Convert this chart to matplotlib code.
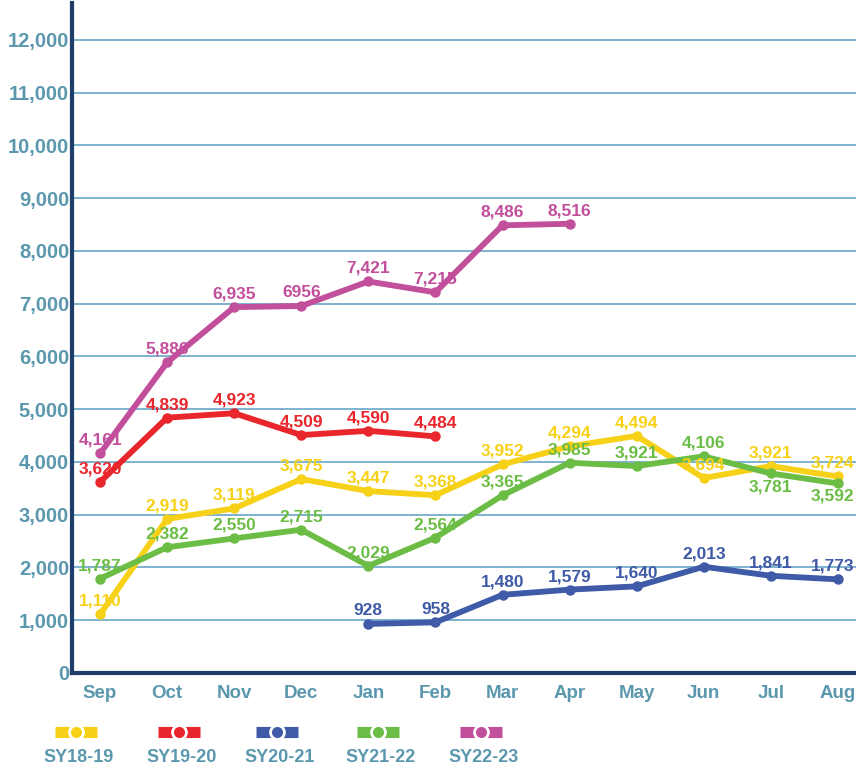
import numpy as np
import matplotlib
matplotlib.use("Agg")
from matplotlib import pyplot as plt
from matplotlib.lines import Line2D

months = ["Sep", "Oct", "Nov", "Dec", "Jan", "Feb", "Mar", "Apr", "May", "Jun", "Jul", "Aug"]
series_names = ["SY18-19", "SY19-20", "SY20-21", "SY21-22", "SY22-23"]

sy18_19 = [1110, 2919, 3119, 3675, 3447, 3368, 3952, 4294, 4494, 3694, 3921, 3724]
sy19_20 = [3620, 4839, 4923, 4509, 4590, 4484, None, None, None, None, None, None]
sy20_21 = [None, None, None, None, 928, 958, 1480, 1579, 1640, 2013, 1841, 1773]
sy21_22 = [1787, 2382, 2550, 2715, 2029, 2564, 3365, 3985, 3921, 4106, 3781, 3592]
sy22_23 = [4161, 5886, 6935, 6956, 7421, 7215, 8486, 8516, None, None, None, None]

yticks = [0, 1000, 2000, 3000, 4000, 5000, 6000, 7000, 8000, 9000, 10000, 11000, 12000]

colors = ["#F7D117", "#E8262C", "#3F5AA6", "#6CBD45", "#C24F9C"]
TEAL = "#5B98AE"
NAVY = "#1F3D6B"
GRID = "#7DB2D0"

# label offsets in points (dx, dy); default is just above the point
label_off = {
    (3, 10): (0, -4), (3, 11): (-4, -4),
    (0, 11): (-4, 4), (2, 11): (-4, 4),
}

plt.rcParams['font.family'] = ['Liberation Sans', 'DejaVu Sans']
plt.rcParams['font.weight'] = 'bold'

fig = plt.figure(figsize=(8.56, 7.69), dpi=100)
ax = fig.add_axes([0.084, 0.125, 0.916, 0.871])

x = np.arange(len(months))
all_series = [sy18_19, sy19_20, sy20_21, sy21_22, sy22_23]
for si, (vals, col) in enumerate(zip(all_series, colors)):
    xs = [i for i, v in enumerate(vals) if v is not None]
    ys = [v for v in vals if v is not None]
    ax.plot(xs, ys, color=col, lw=4.2, marker="o", ms=6.5, solid_capstyle="round",
            solid_joinstyle="round", zorder=3 + si)
    for xi, yi in zip(xs, ys):
        txt = "6956" if (si == 4 and yi == 6956) else "{:,}".format(yi)
        dx, dy = label_off.get((si, xi), (0, 4))
        ax.annotate(txt, (xi, yi), xytext=(dx, dy), textcoords="offset points",
                    ha="center", va="bottom" if dy > 0 else "top", color=col,
                    fontsize=12.5, fontweight="bold", zorder=10)

ax.set_xlim(-0.42, 11.27)
ax.set_ylim(0, 12700)
ax.set_yticks(yticks)
ax.set_yticklabels(["{:,}".format(v) for v in yticks])
ax.set_xticks(x)
ax.set_xticklabels(months)
ax.tick_params(axis="y", length=0, pad=2, labelsize=14.5, labelcolor=TEAL)
ax.tick_params(axis="x", length=0, pad=9, labelsize=13.5, labelcolor=TEAL)
for lab in ax.get_xticklabels() + ax.get_yticklabels():
    lab.set_fontweight("bold")

ax.grid(axis="y", color=GRID, lw=1.4)
ax.set_axisbelow(True)
for s in ["top", "right"]:
    ax.spines[s].set_visible(False)
for s in ["left", "bottom"]:
    ax.spines[s].set_color(NAVY)
    ax.spines[s].set_linewidth(3)

# legend: swatch with ringed dot, name underneath
leg_x = [76, 179, 277, 378, 481]
for name, col, cx in zip(series_names, colors, leg_x):
    fx = cx / 856.0
    fy = 1 - 732 / 769.0
    fig.add_artist(Line2D([fx - 21 / 856.0, fx + 21 / 856.0], [fy, fy],
                          transform=fig.transFigure, color=col, lw=8,
                          solid_capstyle="butt"))
    fig.add_artist(Line2D([fx], [fy], transform=fig.transFigure, marker="o",
                          ms=10, mfc=col, mec="white", mew=2, lw=0))
    fig.text(fx + 3 / 856.0, 1 - 758 / 769.0, name, ha="center", va="center",
             color=TEAL, fontsize=13, fontweight="bold")

fig.savefig("out.png", dpi=100)
